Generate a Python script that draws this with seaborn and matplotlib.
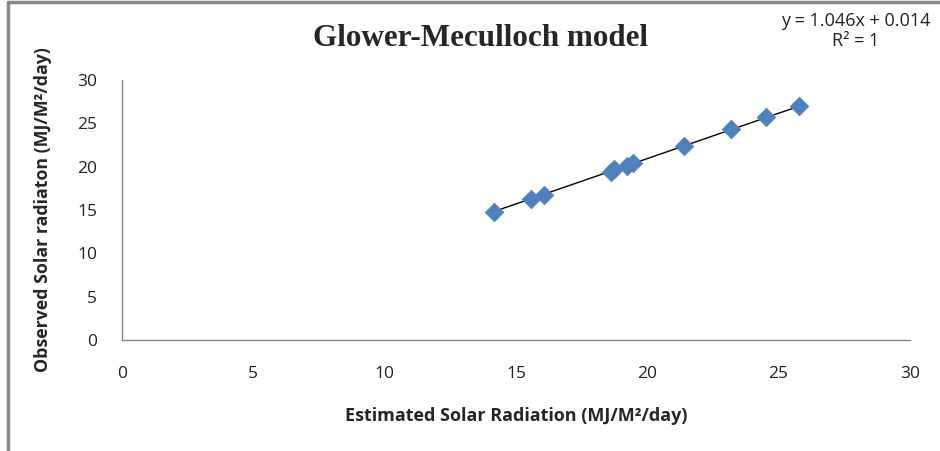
import matplotlib.pyplot as plt
import seaborn as sns
import numpy as np
import pandas as pd
from matplotlib.lines import Line2D

estimated = [14.16, 15.57, 16.06, 18.60, 18.73, 19.21, 19.44, 21.40, 23.18, 24.51, 25.78]
observed = [14.76, 16.26, 16.72, 19.42, 19.69, 20.07, 20.38, 22.41, 24.30, 25.76, 26.99]
x_ticks = [0, 5, 10, 15, 20, 25, 30]
y_ticks = [0, 5, 10, 15, 20, 25, 30]
slope = 1.046
intercept = 0.014

df = pd.DataFrame({'Estimated': estimated, 'Observed': observed})

sns.set_style('white')
plt.rcParams['font.family'] = ['Open Sans', 'DejaVu Sans']

fig = plt.figure(figsize=(9.4, 4.51), dpi=100)
ax = fig.add_axes([0.1298, 0.2461, 0.968 - 0.1298, 0.8226 - 0.2461])

# trendline over the data range
xs = np.array([min(estimated), max(estimated)])
ax.plot(xs, slope * xs + intercept, color='black', linewidth=1, zorder=1)

sns.scatterplot(data=df, x='Estimated', y='Observed', marker='D', s=90,
                color='#4F81BD', edgecolor='#4F81BD', linewidth=0.5, ax=ax, zorder=2)

ax.set_xlim(0, 30)
ax.set_ylim(0, 30)
ax.set_xticks(x_ticks)
ax.set_yticks(y_ticks)
ax.tick_params(axis='both', labelsize=12.5, colors='#222222', length=0)
ax.tick_params(axis='x', pad=19)
ax.tick_params(axis='y', pad=18)
for s in ['top', 'right']:
    ax.spines[s].set_visible(False)
for s in ['left', 'bottom']:
    ax.spines[s].set_color('#888888')
    ax.spines[s].set_linewidth(1)

ax.set_xlabel('Estimated Solar Radiation (MJ/M²/day)', fontsize=13, fontweight='bold', labelpad=18)
ax.set_ylabel('Observed Solar radiaton (MJ/M²/day)', fontsize=12.8, fontweight='bold', labelpad=18)

fig.text(0.511, 0.915, 'Glower-Meculloch model', ha='center', va='center',
         fontsize=22.4, fontweight='bold', family='Liberation Serif')
fig.text(0.91, 0.953, 'y = 1.046x + 0.014', ha='center', va='center', fontsize=13, color='#222222')
fig.text(0.91, 0.91, 'R² = 1', ha='center', va='center', fontsize=13, color='#222222')

# outer chart frame (left and top edges visible)
fig.add_artist(Line2D([8 / 940, 8 / 940, 1], [0, 1 - 2 / 451, 1 - 2 / 451],
                      transform=fig.transFigure, color='#888888', linewidth=2.5))

fig.savefig('out.png', dpi=100)
